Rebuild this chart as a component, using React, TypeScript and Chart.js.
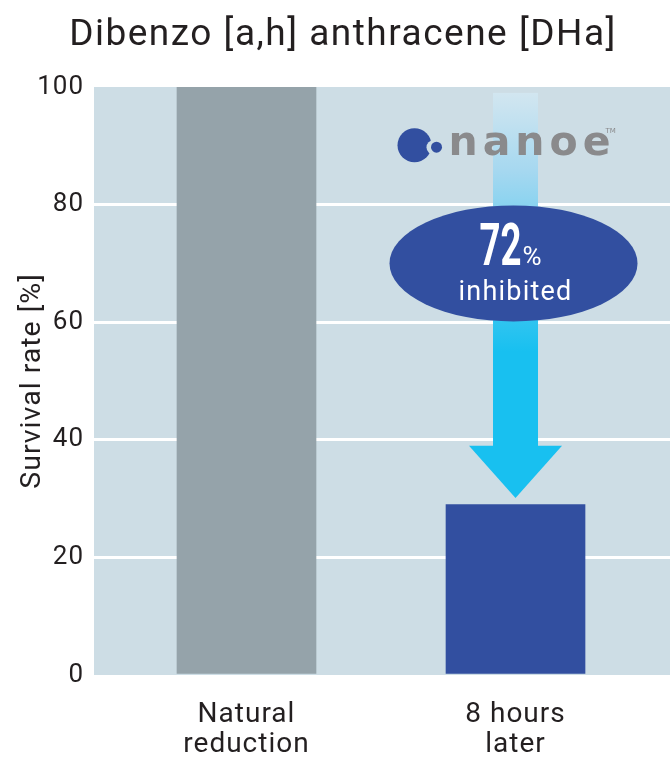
import { useEffect, useRef } from "react";
import { Chart, registerables } from "chart.js";

Chart.register(...registerables);

const categories: string[][] = [["Natural", "reduction"], ["8 hours", "later"]];
const survivalRate = [100, 29];
const barColors = ["#95a3aa", "#324fa0"];
const yTicks = [0, 20, 40, 60, 80, 100];
const inhibitedPct = 72;
const titleText = "Dibenzo [a,h] anthracene [DHa]";
const yTitle = "Survival rate [%]";
const inhibitedLabel = "inhibited";
const logoText = "nanoe";

const FONT = "Roboto, 'DejaVu Sans', sans-serif";
const TEXT = "#231f20";
const PLOT_BG = "#cddde5";
const ARROW_BLUE = "#18c0f0";
const DARK_BLUE = "#324fa0";

const decorPlugin = {
  id: "decor",
  beforeUpdate(chart: any) {
    (chart.ctx as any).letterSpacing = "1px";
  },
  beforeDraw(chart: any) {
    const { ctx, chartArea } = chart;
    (ctx as any).letterSpacing = "1px";
    ctx.save();
    ctx.fillStyle = "#ffffff";
    ctx.fillRect(0, 0, chart.width, chart.height);
    ctx.fillStyle = PLOT_BG;
    ctx.fillRect(chartArea.left, chartArea.top, chartArea.right - chartArea.left, chartArea.bottom - chartArea.top);
    // title
    ctx.fillStyle = TEXT;
    ctx.font = `400 37px ${FONT}`;
    (ctx as any).letterSpacing = "1.5px";
    ctx.textAlign = "center";
    ctx.textBaseline = "alphabetic";
    ctx.fillText(titleText, 343, 45);
    ctx.restore();
  },
  afterDatasetsDraw(chart: any) {
    const { ctx } = chart;
    const xs = chart.scales.x;
    const ys = chart.scales.y;
    const cx = xs.getPixelForValue(2);
    const stemTop = ys.getPixelForValue(99);
    const headTop = ys.getPixelForValue(39);
    const tip = ys.getPixelForValue(30.1);
    const stemHalf = 22.5;
    const headHalf = 46.5;
    ctx.save();
    // arrow stem with gradient
    const g = ctx.createLinearGradient(0, stemTop, 0, ys.getPixelForValue(55));
    g.addColorStop(0, "rgba(210,230,240,1)");
    g.addColorStop(0.3, "#a6d8f0");
    g.addColorStop(1, ARROW_BLUE);
    ctx.fillStyle = g;
    ctx.fillRect(cx - stemHalf, stemTop, stemHalf * 2, headTop - stemTop + 1);
    // head
    ctx.fillStyle = ARROW_BLUE;
    ctx.beginPath();
    ctx.moveTo(cx - headHalf, headTop);
    ctx.lineTo(cx + headHalf, headTop);
    ctx.lineTo(cx, tip);
    ctx.closePath();
    ctx.fill();

    // logo
    const ly = ys.getPixelForValue(90.1);
    const lx = cx - 101;
    ctx.fillStyle = DARK_BLUE;
    ctx.beginPath();
    ctx.arc(lx, ly, 17, 0, Math.PI * 2);
    ctx.fill();
    ctx.fillStyle = PLOT_BG;
    ctx.beginPath();
    ctx.arc(lx + 19, ly + 2, 7, 0, Math.PI * 2);
    ctx.fill();
    ctx.fillStyle = DARK_BLUE;
    ctx.beginPath();
    ctx.arc(lx + 22, ly + 2, 5.5, 0, Math.PI * 2);
    ctx.fill();
    ctx.fillStyle = "#8a8a8c";
    ctx.font = `bold 41px 'DejaVu Sans', sans-serif`;
    ctx.textAlign = "left";
    ctx.textBaseline = "alphabetic";
    (ctx as any).letterSpacing = "5px";
    ctx.fillText(logoText, lx + 34, ly + 10);
    (ctx as any).letterSpacing = "0px";
    ctx.font = `7px 'DejaVu Sans', sans-serif`;
    ctx.fillText("TM", lx + 191, ly - 12);

    // ellipse
    const ey = ys.getPixelForValue(70);
    ctx.fillStyle = DARK_BLUE;
    ctx.beginPath();
    ctx.ellipse(cx - 2, ey, 124, 58, 0, 0, Math.PI * 2);
    ctx.fill();
    ctx.fillStyle = "#ffffff";
    ctx.textBaseline = "alphabetic";
    ctx.save();
    ctx.translate(cx - 15, ey + 2);
    ctx.scale(0.62, 1);
    ctx.font = `bold 59px ${FONT}`;
    ctx.textAlign = "center";
    ctx.fillText(String(inhibitedPct), 0, 0);
    ctx.restore();
    ctx.font = `400 26px ${FONT}`;
    ctx.textAlign = "left";
    (ctx as any).letterSpacing = "0px";
    ctx.fillText("%", cx + 7, ey + 2);
    ctx.textAlign = "center";
    (ctx as any).letterSpacing = "1.2px";
    ctx.font = `400 27px ${FONT}`;
    ctx.fillText(inhibitedLabel, cx, ey + 37);
    ctx.restore();
  },
};

export default function App() {
  const ref = useRef<HTMLCanvasElement | null>(null);
  useEffect(() => {
    if (!ref.current) return;
    const chart = new Chart(ref.current, {
      type: "bar",
      data: {
        datasets: [
          {
            data: survivalRate.map((v, i) => ({ x: i + 1, y: v })),
            backgroundColor: barColors,
            barThickness: 139,
          } as any,
        ],
      },
      options: {
        animation: false,
        responsive: false,
        devicePixelRatio: 1,
        layout: { padding: { top: 87, left: 0, right: 0, bottom: 0 } },
        plugins: { legend: { display: false }, tooltip: { enabled: false }, title: { display: false } },
        scales: {
          x: {
            type: "linear",
            offset: false,
            min: 0.4331,
            max: 2.5743,
            afterBuildTicks: (s: any) => {
              s.ticks = categories.map((_, i) => ({ value: i + 1 }));
            },
            afterFit: (s: any) => {
              s.height = 85;
            },
            ticks: {
              callback: (v: any) => categories[Number(v) - 1] ?? "",
              color: TEXT,
              font: { family: FONT, size: 28, weight: "400" as any, lineHeight: 1.08 },
              padding: 25,
              maxRotation: 0,
              autoSkip: false,
            },
            grid: { display: false, drawTicks: false },
            border: { display: false },
          },
          y: {
            min: 0,
            max: 100,
            afterBuildTicks: (s: any) => {
              s.ticks = yTicks.map((v) => ({ value: v }));
            },
            afterFit: (s: any) => {
              s.width = 94;
            },
            ticks: {
              color: TEXT,
              font: { family: FONT, size: 26, weight: "400" as any },
              padding: 10,
            },
            grid: {
              drawTicks: false,
              lineWidth: 3,
              color: (c: any) => (c.tick && c.tick.value > 0 && c.tick.value < 100 ? "#ffffff" : "rgba(0,0,0,0)"),
            },
            border: { display: false },
            title: {
              display: true,
              text: yTitle,
              color: TEXT,
              font: { family: FONT, size: 28.5, weight: "400" as any, lineHeight: 1 },
              padding: { top: 19, bottom: 0 },
            },
          },
        },
      },
      plugins: [decorPlugin],
    } as any);
    return () => chart.destroy();
  }, []);
  return (
    <div style={{ position: "absolute", left: 0, top: 0, width: 670, height: 760, overflow: "hidden" }}>
      <canvas ref={ref} width={670} height={760} style={{ display: "block" }} />
    </div>
  );
}
